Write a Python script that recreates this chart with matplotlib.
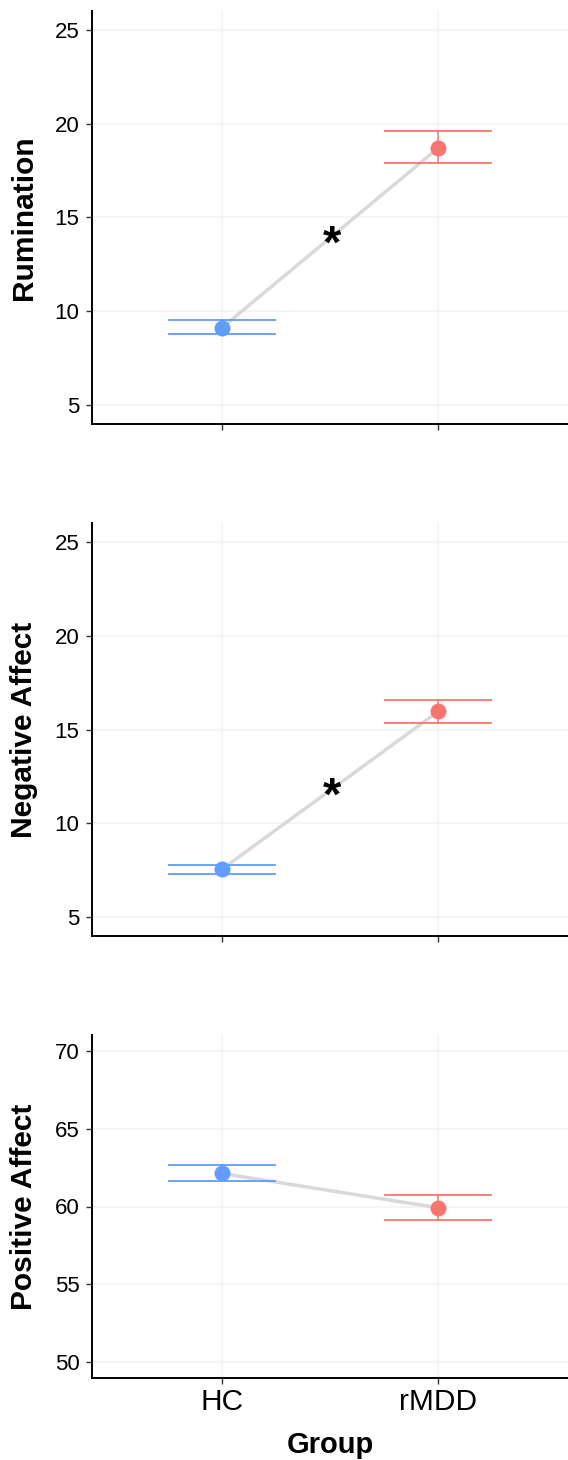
import matplotlib
matplotlib.use("Agg")
import matplotlib.pyplot as plt

plt.rcParams['font.family'] = ['Liberation Sans', 'DejaVu Sans']

groups = ["HC", "rMDD"]
colors = ["#619CFF", "#F8766D"]

measures = ["Rumination", "Negative Affect", "Positive Affect"]
means = [[9.12, 18.70], [7.55, 15.96], [62.12, 59.92]]
lowers = [[8.78, 17.88], [7.30, 15.33], [61.65, 59.11]]
uppers = [[9.52, 19.62], [7.78, 16.59], [62.63, 60.73]]
yticks = [[5, 10, 15, 20, 25], [5, 10, 15, 20, 25], [50, 55, 60, 65, 70]]
ylims = [(4, 26), (4, 26), (49, 71)]
significant = [True, True, False]

W, H = 568, 1460
fig = plt.figure(figsize=(W / 100, H / 100), dpi=100)

# axes boxes in pixel coords: (left, top, right, bottom)
boxes = [(92, 11, 568, 424), (92, 523, 568, 936), (92, 1035, 568, 1378)]

xpos = [1, 2]
for i, (l, t, r, b) in enumerate(boxes):
    ax = fig.add_axes([l / W, 1 - b / H, (r - l) / W, (b - t) / H])
    ax.set_xlim(0.4, 2.6)
    ax.set_ylim(*ylims[i])
    ax.set_yticks(yticks[i])
    ax.set_xticks(xpos)
    ax.grid(True, color="#F2F2F2", linewidth=1.1, zorder=0)
    ax.set_axisbelow(True)
    for s in ["top", "right"]:
        ax.spines[s].set_visible(False)
    for s in ["left", "bottom"]:
        ax.spines[s].set_linewidth(1.4)
        ax.spines[s].set_color("black")
    ax.tick_params(axis="both", direction="out", length=4.5, width=1.0, color="#333333")
    ax.tick_params(axis="y", labelsize=16, pad=4.5, labelcolor="black")
    if i == 2:
        ax.set_xticklabels(groups, fontsize=21.5)
        ax.tick_params(axis="x", pad=2.5)
        ax.set_xlabel("Group", fontsize=21, fontweight="bold", labelpad=11)
    else:
        ax.set_xticklabels([])

    # connecting line
    ax.plot(xpos, means[i], color="#D9D9D9", linewidth=2.5, zorder=2,
            solid_capstyle="butt")
    # error bars
    for j in range(2):
        ax.plot([xpos[j], xpos[j]], [lowers[i][j], uppers[i][j]], color=colors[j],
                linewidth=1.1, zorder=3)
        for yv in (lowers[i][j], uppers[i][j]):
            ax.plot([xpos[j] - 0.25, xpos[j] + 0.25], [yv, yv], color=colors[j],
                    linewidth=1.3, zorder=3, solid_capstyle="butt")
        ax.plot(xpos[j], means[i][j], "o", color=colors[j], markersize=11.5,
                markeredgewidth=0, zorder=4)

    if significant[i]:
        ax.annotate("*", xy=(1.5, (means[i][0] + means[i][1]) / 2),
                    xytext=(1.5, -5.5), textcoords="offset points",
                    fontsize=34, fontweight="bold", ha="center", va="center",
                    zorder=5)

    ax.text((24 - l) / (r - l), 0.5, measures[i], transform=ax.transAxes,
            rotation=90, ha="center", va="center", fontsize=21.5,
            fontweight="bold")

fig.savefig("out.png", dpi=100)
